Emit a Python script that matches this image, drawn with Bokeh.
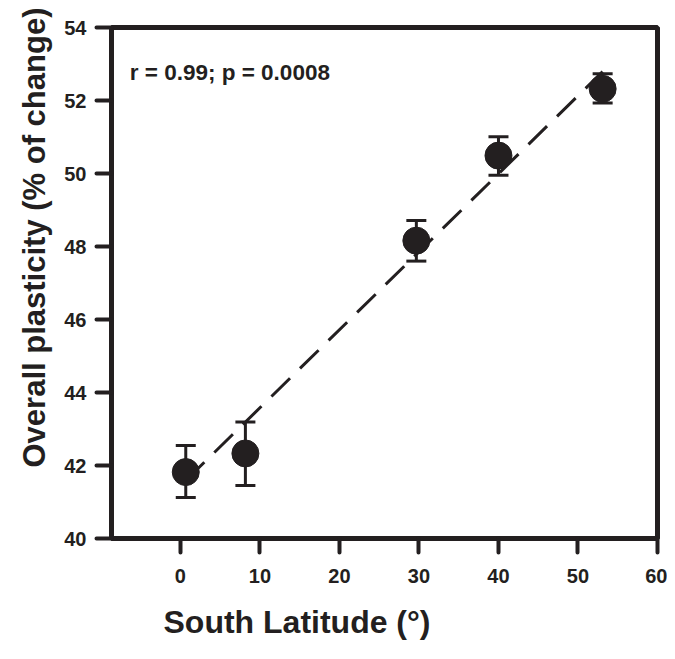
from bokeh.plotting import figure
from bokeh.models import (Range1d, FixedTicker, ColumnDataSource, Whisker, TeeHead, Label, Title)
from bokeh.embed import file_html
from bokeh.resources import INLINE

# ---- data ----
latitude = [0.67, 8.17, 29.67, 40.0, 53.1]
plasticity = [41.82, 42.33, 48.16, 50.49, 52.32]
err_upper = [42.55, 43.19, 48.71, 51.01, 52.73]
err_lower = [41.12, 41.45, 47.60, 49.95, 51.93]
fit_x = [0.67, 53.1]
fit_y = [41.59, 52.79]
x_ticks = [0, 10, 20, 30, 40, 50, 60]
y_ticks = [40, 42, 44, 46, 48, 50, 52, 54]
annotation_text = "r = 0.99; p = 0.0008"
x_title = "South Latitude (°)"
y_title = "Overall plasticity (% of change)"

INK = "#231f20"
FONT = "Liberation Sans"

p = figure(width=667, height=659, output_backend="svg", toolbar_location=None,
           x_range=Range1d(-8.67, 60), y_range=Range1d(40, 54),
           min_border_left=111, min_border_right=10, min_border_top=27, min_border_bottom=121)

p.background_fill_color = "white"
p.border_fill_color = "white"
p.xgrid.visible = False
p.ygrid.visible = False
p.outline_line_color = INK
p.outline_line_width = 5

for ax, ticks, out in ((p.xaxis[0], x_ticks, 14), (p.yaxis[0], y_ticks, 15)):
    ax.ticker = FixedTicker(ticks=ticks)
    ax.axis_line_color = INK
    ax.axis_line_width = 5
    ax.major_tick_line_color = INK
    ax.major_tick_line_width = 4
    ax.major_tick_line_cap = "round"
    ax.major_tick_in = 0
    ax.major_tick_out = out
    ax.minor_tick_line_color = None
    ax.major_label_text_font = FONT
    ax.major_label_text_font_style = "bold"
    ax.major_label_text_font_size = "20px"
    ax.major_label_text_color = INK

p.xaxis[0].major_label_standoff = 16
p.yaxis[0].major_label_standoff = 10

# regression line
p.line(fit_x, fit_y, line_color=INK, line_width=3, line_dash="26 14")

# error bars
src = ColumnDataSource(dict(x=latitude, y=plasticity, upper=err_upper, lower=err_lower))
w = Whisker(source=src, base="x", upper="upper", lower="lower", dimension="height",
            line_color=INK, line_width=3,
            upper_head=TeeHead(size=20, line_width=3, line_color=INK),
            lower_head=TeeHead(size=20, line_width=3, line_color=INK))
p.add_layout(w)

# points
p.scatter("x", "y", source=src, size=27, fill_color=INK, line_color=INK)

# annotation
p.add_layout(Label(x=-6.37, y=52.78, text=annotation_text, text_font=FONT,
                   text_font_style="bold", text_font_size="22.5px", text_color=INK,
                   text_align="left", text_baseline="alphabetic"))

# axis titles
p.add_layout(Title(text=x_title, align="left", offset=52, standoff=36, vertical_align="top",
                   text_font=FONT, text_font_style="bold", text_font_size="32px",
                   text_color=INK), "below")
p.add_layout(Title(text=y_title, align="left", offset=71, standoff=20,
                   text_font=FONT, text_font_style="bold", text_font_size="31px",
                   text_color=INK), "left")

open("out.html", "w").write(file_html(p, INLINE))
